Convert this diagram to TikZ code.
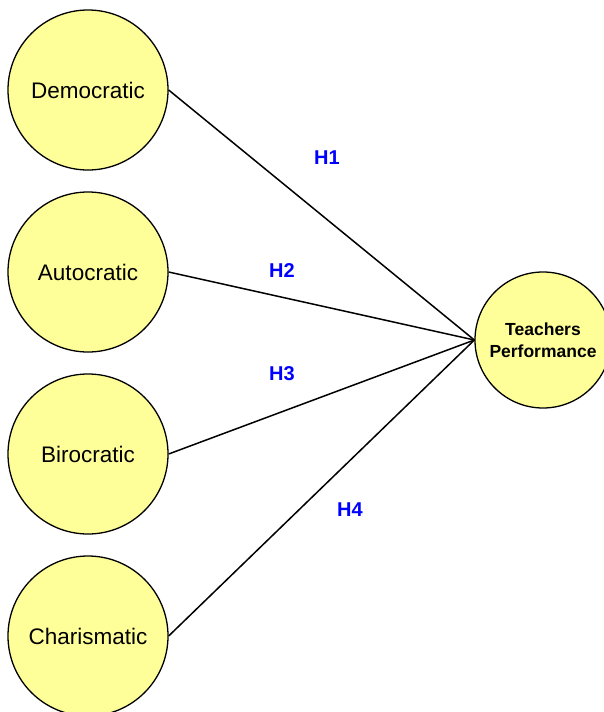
\documentclass[tikz,border=0pt]{standalone}
\usepackage{fontspec}
\setmainfont{Liberation Sans}
\usepackage{xcolor}
\definecolor{paleyellow}{HTML}{FFFF99}
\usetikzlibrary{positioning}

\tikzset{
  construct/.style={circle, draw=black, line width=1.3pt, fill=paleyellow,
    minimum size=160pt, inner sep=0pt, font=\fontsize{22.5}{26}\selectfont},
  outcome/.style={circle, draw=black, line width=1.3pt, fill=paleyellow,
    minimum size=136pt, inner sep=0pt, align=center,
    font=\bfseries\fontsize{17.5}{22}\selectfont},
  hyplabel/.style={text=blue, font=\bfseries\fontsize{20}{24}\selectfont},
  link/.style={line width=1.5pt}
}

\begin{document}
\begin{tikzpicture}[x=1pt, y=-1pt]
\useasboundingbox (0,0) rectangle (603,712);

% Leadership styles
\node[construct] (dem) at (88,90) {Democratic};
\node[construct] (aut) at (88,272) {Autocratic};
\node[construct] (bir) at (88,454) {Birocratic};
\node[construct] (cha) at (88,636) {Charismatic};

% Outcome
\node[outcome] (perf) at (543,340) {Teachers\\Performance};

% Paths
\draw[link] (dem.east) -- (perf.west);
\draw[link] (aut.east) -- (perf.west);
\draw[link] (bir.east) -- (perf.west);
\draw[link] (cha.east) -- (perf.west);

% Hypotheses
\node[hyplabel] (h1) at (327,158) {H1};
\node[hyplabel] (h2) at (282,271) {H2};
\node[hyplabel] (h3) at (282,374) {H3};
\node[hyplabel] (h4) at (350,510) {H4};
\end{tikzpicture}
\end{document}
